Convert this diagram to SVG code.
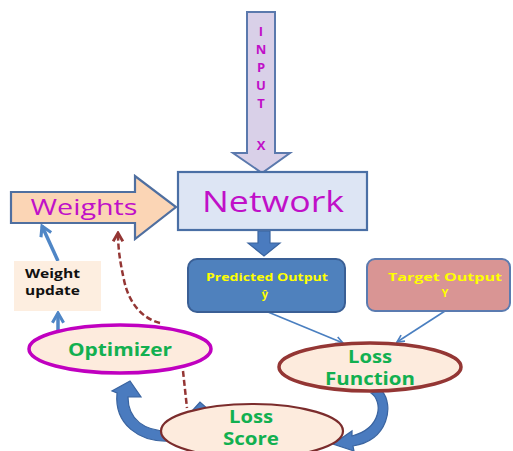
<svg xmlns="http://www.w3.org/2000/svg" width="513" height="451" viewBox="0 0 513 451">
<defs>
<style>
.txt{font-family:"Open Sans","DejaVu Sans",sans-serif;font-weight:bold}
.reg{font-family:"Open Sans","DejaVu Sans",sans-serif;font-weight:normal}
.mag{fill:#c010c8}
.grn{fill:#12b050;font-size:17px}
.yel{fill:#ffff00;font-size:11px}
.ell{fill:#fdebdd}
.blk{fill:#4a7bbf;stroke:#3a64a0;stroke-width:1.2}
.thin{fill:none;stroke:#4a7fc0;stroke-width:1.6;marker-end:url(#open)}
.thick{fill:none;stroke:#4f86c6;stroke-width:3.5;marker-end:url(#openBig)}
.dash{fill:none;stroke:#943634;stroke-width:2.5;stroke-dasharray:6 3}
</style>
<marker id="open" viewBox="0 0 10 10" refX="9" refY="5" markerWidth="9" markerHeight="9" markerUnits="userSpaceOnUse" orient="auto">
<path d="M1 1 L9 5 L1 9" fill="none" stroke="#4a7fc0" stroke-width="1.8"/>
</marker>
<marker id="openBig" viewBox="0 0 10 10" refX="8" refY="5" markerWidth="14" markerHeight="14" markerUnits="userSpaceOnUse" orient="auto">
<path d="M1 1 L8 5 L1 9" fill="none" stroke="#4f86c6" stroke-width="2.2"/>
</marker>
<marker id="dashHead" viewBox="0 0 10 10" refX="8" refY="5" markerWidth="12" markerHeight="12" markerUnits="userSpaceOnUse" orient="auto">
<path d="M1 1 L8 5 L1 9" fill="none" stroke="#943634" stroke-width="2.4"/>
</marker>
</defs>
<rect width="513" height="451" fill="#ffffff"/>

<g id="connectors">
<path class="thin" d="M268 312 L343 343"/>
<path class="thin" d="M445 311 L397 342"/>
<path class="thick" d="M58 261 L42 226"/>
<path class="thick" d="M58 330 L58 313"/>
<path class="dash" d="M183 371 L187 408"/>
<path class="dash" d="M160 323 C140 318 128 300 124 280 C120 262 118 248 118 233" marker-end="url(#dashHead)"/>
<polygon class="blk" points="192,411 200,402 210,411"/>
<path class="blk" d="M371 393 C383 401 382 428 352 436 L352 431 L333 444 L354 451 L353 446 C389 440 394 405 382 391 Z"/>
<path class="blk" d="M168 431 C145 431 128 420 128 397 L141 397 L130 381 L112 391 L117 393 C114 425 140 442 168 441 Z"/>
<polygon class="blk" points="258,231 270,231 270,243 280,243 264,256 248,243 258,243"/>
</g>

<g id="input">
<polygon points="247,12 275,12 275,153 290,153 262,173 233,153 247,153" fill="#d9d0e8" stroke="#5b79ad" stroke-width="2"/>
<g class="txt mag" font-size="13" text-anchor="middle">
<text x="261" y="36">I</text>
<text x="261" y="54">N</text>
<text x="261" y="72">P</text>
<text x="261" y="90">U</text>
<text x="261" y="108">T</text>
<text x="261" y="150">X</text>
</g>
</g>

<g id="network">
<rect x="178" y="172" width="189" height="58" fill="#dde5f4" stroke="#4a6fa5" stroke-width="2.2"/>
<text class="reg mag" x="273" y="212" font-size="29" text-anchor="middle" textLength="142" lengthAdjust="spacingAndGlyphs">Network</text>
</g>

<g id="weights">
<polygon points="11,192 135,192 135,176 176,207 135,239 135,223 11,223" fill="#fbd5b5" stroke="#4f6fa0" stroke-width="2.2"/>
<text class="reg mag" x="84" y="215" font-size="21" text-anchor="middle" textLength="107" lengthAdjust="spacingAndGlyphs">Weights</text>
</g>

<g id="weight-update">
<rect x="14" y="261" width="87" height="50" fill="#fdeee0"/>
<text class="txt" x="25" y="278" font-size="12.5" fill="#111" textLength="55" lengthAdjust="spacingAndGlyphs">Weight</text>
<text class="txt" x="25" y="295" font-size="12.5" fill="#111" textLength="55" lengthAdjust="spacingAndGlyphs">update</text>
</g>

<g id="optimizer">
<ellipse class="ell" cx="120" cy="349" rx="91" ry="24" stroke="#c000c0" stroke-width="3.5"/>
<text class="txt grn" x="120" y="356" text-anchor="middle" textLength="104" lengthAdjust="spacingAndGlyphs">Optimizer</text>
</g>

<g id="predicted">
<rect x="188" y="259" width="157" height="53" rx="9" fill="#4f81bd" stroke="#3a5f95" stroke-width="2"/>
<text class="txt yel" x="267" y="281" text-anchor="middle" textLength="122" lengthAdjust="spacingAndGlyphs">Predicted Output</text>
<text class="txt yel" x="265" y="298" text-anchor="middle">ŷ</text>
</g>

<g id="target">
<rect x="367" y="259" width="143" height="52" rx="8" fill="#d99594" stroke="#5b7bb0" stroke-width="2"/>
<text class="txt yel" x="445" y="281" text-anchor="middle" textLength="114" lengthAdjust="spacingAndGlyphs">Target  Output</text>
<text class="txt yel" x="445" y="297" text-anchor="middle">Y</text>
</g>

<g id="loss-function">
<ellipse class="ell" cx="370" cy="367" rx="91" ry="24" stroke="#943634" stroke-width="3.5"/>
<text class="txt grn" x="370" y="363" text-anchor="middle" textLength="44" lengthAdjust="spacingAndGlyphs">Loss</text>
<text class="txt grn" x="370" y="385" text-anchor="middle" textLength="90" lengthAdjust="spacingAndGlyphs">Function</text>
</g>

<g id="loss-score">
<ellipse class="ell" cx="252" cy="431" rx="91" ry="27" stroke="#7b2c2c" stroke-width="2.2"/>
<text class="txt grn" x="251" y="423" text-anchor="middle" textLength="44" lengthAdjust="spacingAndGlyphs">Loss</text>
<text class="txt grn" x="251" y="445" text-anchor="middle" textLength="56" lengthAdjust="spacingAndGlyphs">Score</text>
</g>
</svg>
